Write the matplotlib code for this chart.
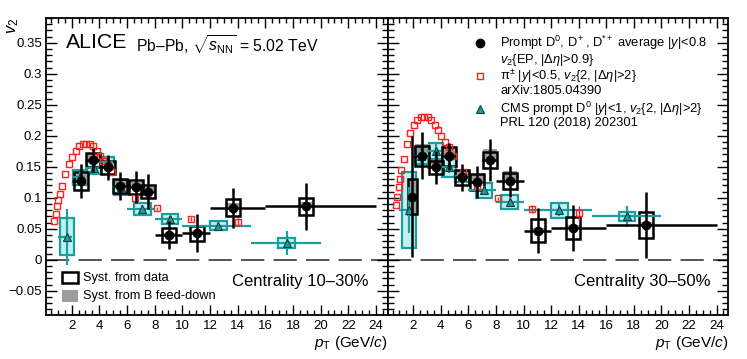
import numpy as np
import matplotlib
matplotlib.use("Agg")
import matplotlib.pyplot as plt
from matplotlib.patches import Rectangle
from matplotlib.ticker import MultipleLocator

plt.rcParams["font.family"] = ["Liberation Sans", "DejaVu Sans"]
plt.rcParams["mathtext.fontset"] = "custom"
plt.rcParams["mathtext.rm"] = "Liberation Sans"
plt.rcParams["mathtext.it"] = "Liberation Sans:italic"
plt.rcParams["mathtext.bf"] = "Liberation Sans:bold"

# ALICE prompt D average, 10-30%
d1_x = [2.68, 3.57, 4.65, 5.5, 6.64, 7.55, 9.07, 11.05, 13.69, 18.95]
d1_lo = [2, 3, 4, 5, 6, 7, 8, 10, 12, 16]
d1_hi = [3, 4, 5, 6, 7, 8, 10, 12, 16, 24]
d1_y = [0.127, 0.161, 0.149, 0.119, 0.117, 0.110, 0.040, 0.043, 0.084, 0.086]
d1_stat = [0.028, 0.019, 0.020, 0.022, 0.026, 0.028, 0.023, 0.031, 0.032, 0.038]
d1_syst = [0.015, 0.011, 0.011, 0.011, 0.011, 0.011, 0.011, 0.012, 0.014, 0.013]
d1_fd_lo = [0.003, 0.002, 0.002, 0.002, 0.002, 0.002, 0.001, 0.001, 0.002, 0.002]
d1_fd_hi = [0.012, 0.010, 0.009, 0.008, 0.008, 0.007, 0.004, 0.004, 0.008, 0.008]

# ALICE prompt D average, 30-50%
d2_x = [1.93, 2.66, 3.65, 4.61, 5.56, 6.6, 7.56, 9.01, 11.06, 13.6, 18.9]
d2_lo = [1.6, 2, 3, 4, 5, 6, 7, 8, 10, 12, 16]
d2_hi = [2.25, 3, 4, 5, 6, 7, 8, 10, 12, 16, 24]
d2_y = [0.102, 0.168, 0.149, 0.167, 0.133, 0.126, 0.161, 0.127, 0.047, 0.051, 0.056]
d2_stat = [0.097, 0.038, 0.027, 0.022, 0.022, 0.026, 0.034, 0.025, 0.036, 0.037, 0.053]
d2_syst = [0.028, 0.016, 0.011, 0.015, 0.012, 0.013, 0.013, 0.013, 0.018, 0.018, 0.021]
d2_fd_lo = [0.028, 0.004, 0.003, 0.004, 0.003, 0.003, 0.003, 0.003, 0.002, 0.002, 0.002]
d2_fd_hi = [0.028, 0.018, 0.012, 0.015, 0.012, 0.012, 0.018, 0.017, 0.005, 0.005, 0.005]

# charged pions (arXiv:1805.04390)
pi_x = [0.75, 0.85, 0.95, 1.05, 1.15, 1.3, 1.55, 1.8, 2.05, 2.3, 2.55, 2.8, 3.05,
        3.3, 3.55, 3.8, 4.05, 4.3, 4.6, 4.9, 5.6, 6.6, 8.15, 10.6, 14.0]
pi1_y = [0.063, 0.074, 0.086, 0.096, 0.106, 0.119, 0.138, 0.154, 0.166, 0.176, 0.183,
         0.187, 0.187, 0.187, 0.183, 0.176, 0.168, 0.160, 0.151, 0.141, 0.119, 0.099,
         0.083, 0.066, 0.061]
pi1_err = [0] * 21 + [0.001, 0.002, 0.003, 0.007]
pi2_y = [0.088, 0.102, 0.117, 0.131, 0.145, 0.163, 0.187, 0.204, 0.218, 0.226, 0.230,
         0.231, 0.231, 0.226, 0.217, 0.210, 0.199, 0.190, 0.182, 0.167, 0.142, 0.117,
         0.099, 0.082, 0.075]
pi2_err = [0] * 21 + [0.002, 0.003, 0.007, 0.012]

# CMS prompt D0 (PRL 120 (2018) 202301)
c_lo = [1, 2, 3, 4, 5, 6, 8, 10, 15]
c_hi = [2, 3, 4, 5, 6, 8, 10, 15, 20]
c1_x = [1.69, 2.6, 3.6, 4.6, 5.55, 7.11, 9.12, 12.6, 17.55]
c1_y = [0.037, 0.133, 0.148, 0.157, 0.117, 0.082, 0.066, 0.055, 0.027]
c1_stat = [0.045, 0.008, 0.007, 0.007, 0.007, 0.006, 0.005, 0.006, 0.019]
c1_syst = [0.030, 0.012, 0.010, 0.008, 0.012, 0.009, 0.008, 0.007, 0.008]
c2_x = [1.69, 2.6, 3.63, 4.6, 5.55, 7.12, 9.0, 12.6, 17.5]
c2_y = [0.080, 0.168, 0.175, 0.150, 0.135, 0.112, 0.093, 0.080, 0.070]
c2_stat = [0.037, 0.012, 0.012, 0.010, 0.008, 0.007, 0.007, 0.010, 0.017]
c2_syst = [0.061, 0.013, 0.013, 0.017, 0.009, 0.012, 0.011, 0.012, 0.007]

TEAL = "#1a9e9e"
RED = "#ff2020"


def draw_panel(ax, dx, dlo, dhi, dy, dstat, dsyst, fdlo, fdhi, piy, pierr,
               cx, cy, cstat, csyst):
    # CMS boxes
    for x, lo, hi, y, s in zip(cx, c_lo, c_hi, cy, csyst):
        hw = min(0.6, (hi - lo) / 2)
        ax.add_patch(Rectangle((x - hw, y - s), 2 * hw, 2 * s, facecolor="#c2efef",
                               edgecolor=TEAL, lw=1.6, zorder=1))
    # B feed-down boxes
    for x, lo, hi, y, a, b in zip(dx, dlo, dhi, dy, fdlo, fdhi):
        hw = min(0.5, (hi - lo) / 2)
        ax.add_patch(Rectangle((x - hw, y - a), 2 * hw, a + b, facecolor="#9c9c9c",
                               edgecolor="none", zorder=2))
    # data syst boxes
    for x, lo, hi, y, s in zip(dx, dlo, dhi, dy, dsyst):
        hw = min(0.5, (hi - lo) / 2)
        ax.add_patch(Rectangle((x - hw, y - s), 2 * hw, 2 * s, facecolor="none",
                               edgecolor="black", lw=1.8, zorder=3))
    # CMS points
    cx_a = np.array(cx)
    ax.errorbar(cx, cy, yerr=cstat, xerr=[cx_a - np.array(c_lo), np.array(c_hi) - cx_a],
                fmt="^", color=TEAL, mfc=TEAL, mec="#0c3f3f", mew=0.8, ms=5.6,
                elinewidth=1.6, capsize=0, zorder=4)
    # pions
    ax.errorbar(pi_x, piy, yerr=pierr, fmt="s", mfc="none", mec=RED, color=RED,
                ms=4.3, mew=1.0, elinewidth=1.0, capsize=0, zorder=5)
    # ALICE D
    dx_a = np.array(dx)
    ax.errorbar(dx, dy, yerr=dstat, xerr=[dx_a - np.array(dlo), np.array(dhi) - dx_a],
                fmt="o", color="black", ms=6, elinewidth=1.8, capsize=0, zorder=6)

    ax.axhline(0, color="#3a3a3a", lw=1.2, dashes=(14, 5.5), zorder=0)
    ax.set_xlim(0.15, 24.85)
    ax.set_ylim(-0.089, 0.39)
    ax.xaxis.set_major_locator(MultipleLocator(2))
    ax.xaxis.set_minor_locator(MultipleLocator(0.5))
    ax.yaxis.set_major_locator(MultipleLocator(0.05))
    ax.yaxis.set_minor_locator(MultipleLocator(0.01))
    ax.tick_params(which="both", direction="in", top=True, right=True, labelsize=9.5)
    ax.tick_params(axis="x", which="major", length=7, width=1.0, pad=3.5)
    ax.tick_params(axis="x", which="minor", length=3.5, width=1.0)
    ax.tick_params(axis="y", which="major", length=8, width=1.0, pad=3)
    ax.tick_params(axis="y", which="minor", length=4, width=1.0)
    ax.set_xticks(np.arange(2, 25, 2))
    ax.set_xticklabels([str(v) for v in range(2, 25, 2)])
    for sp in ax.spines.values():
        sp.set_linewidth(1.3)
    ax.text(1.0, -0.107, r"$p_{\mathrm{T}}$ (GeV/$c$)", transform=ax.transAxes,
            ha="right", va="baseline", fontsize=11)


fig = plt.figure(figsize=(7.47, 3.59), dpi=100)
ax1 = fig.add_axes([0.0616, 0.1226, 0.4574, 0.8273])
ax2 = fig.add_axes([0.519, 0.1226, 0.456, 0.8273])

draw_panel(ax1, d1_x, d1_lo, d1_hi, d1_y, d1_stat, d1_syst, d1_fd_lo, d1_fd_hi,
           pi1_y, pi1_err, c1_x, c1_y, c1_stat, c1_syst)
draw_panel(ax2, d2_x, d2_lo, d2_hi, d2_y, d2_stat, d2_syst, d2_fd_lo, d2_fd_hi,
           pi2_y, pi2_err, c2_x, c2_y, c2_stat, c2_syst)

ax1.set_yticks(np.arange(-0.05, 0.36, 0.05))
ax1.set_yticklabels(["\u22120.05", "0", "0.05", "0.1", "0.15", "0.2", "0.25", "0.3", "0.35"])
ax2.tick_params(labelleft=False)

fig.text(0.017, 0.95, r"$v_2$", rotation=90, ha="center", va="top", fontsize=12)

# left panel annotations
ax1.text(0.0585, 0.916, "ALICE", transform=ax1.transAxes, fontsize=15.3, va="center")
ax1.text(0.263, 0.912, "Pb\u2013Pb, " + r"$\sqrt{s_{\mathrm{NN}}}$ = 5.02 TeV",
         transform=ax1.transAxes, fontsize=11.3, va="center")
ax1.add_patch(Rectangle((0.046, 0.107), 0.0485, 0.039, transform=ax1.transAxes,
                        facecolor="none", edgecolor="black", lw=1.8))
ax1.add_patch(Rectangle((0.046, 0.045), 0.0485, 0.039, transform=ax1.transAxes,
                        facecolor="#9c9c9c", edgecolor="none"))
ax1.text(0.107, 0.124, "Syst. from data", transform=ax1.transAxes, fontsize=9.2, va="center")
ax1.text(0.107, 0.065, "Syst. from B feed-down", transform=ax1.transAxes, fontsize=9.2,
         va="center")
ax1.text(0.945, 0.112, "Centrality 10\u201330%", transform=ax1.transAxes, fontsize=12,
         ha="right", va="center")

# right panel legend
lx, tx = 0.271, 0.330
ax2.plot([lx], [0.916], "o", color="black", ms=6, transform=ax2.transAxes)
ax2.plot([lx], [0.805], "s", mfc="none", mec=RED, ms=4.3, mew=1.0, transform=ax2.transAxes)
ax2.plot([lx], [0.694], "^", color=TEAL, mec="#0c3f3f", mew=0.8, ms=5.6,
         transform=ax2.transAxes)
leg_lines = [
    (0.916, r"Prompt D$^0$, D$^+$, D$^{*+}$ average |$y$|<0.8"),
    (0.859, r"$v_2${EP, |" + "\u0394" + r"$\eta$|>0.9}"),
    (0.805, "\u03c0" + r"$^{\pm}$ |$y$|<0.5, $v_2${2, |" + "\u0394" + r"$\eta$|>2}"),
    (0.754, "arXiv:1805.04390"),
    (0.694, r"CMS prompt D$^0$ |$y$|<1, $v_2${2, |" + "\u0394" + r"$\eta$|>2}"),
    (0.646, "PRL 120 (2018) 202301"),
]
for yy, s in leg_lines:
    ax2.text(tx, yy, s, transform=ax2.transAxes, fontsize=9.3, va="center")
ax2.text(0.948, 0.112, "Centrality 30\u201350%", transform=ax2.transAxes, fontsize=12,
         ha="right", va="center")

fig.savefig("out.png", dpi=100)
